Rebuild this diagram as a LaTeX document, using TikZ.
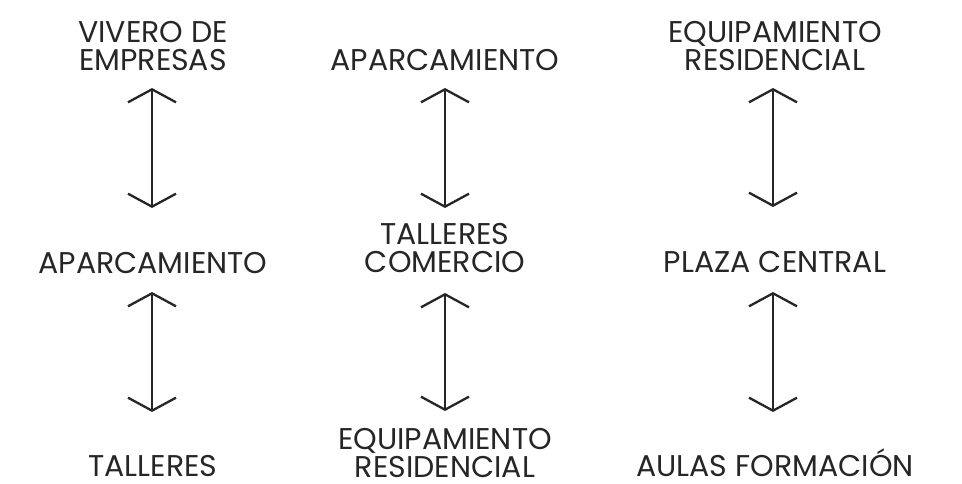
\documentclass[tikz,border=0pt]{standalone}
\usepackage{fontspec}
\setmainfont{Poppins}
\usetikzlibrary{arrows.meta}
\definecolor{ink}{HTML}{262626}
\begin{document}
\begin{tikzpicture}[x=1pt,y=1pt,
  lbl/.style={inner sep=0pt, anchor=base, align=center, text=ink,
    font=\fontsize{30}{28}\selectfont},
  arr/.style={draw=ink, line width=2.3pt,
    {Straight Barb[length=13pt,width=48pt]}-{Straight Barb[length=13pt,width=48pt]}}]
\useasboundingbox (0,0) rectangle (962,484);
% column 1
\node[lbl] (vivero) at (153,413) {VIVERO DE\\EMPRESAS};
\node[lbl] (aparcA) at (153,210) {APARCAMIENTO};
\node[lbl] (talleresA) at (153,7) {TALLERES};
% column 2
\node[lbl] (aparcB) at (445,413) {APARCAMIENTO};
\node[lbl] (talleresB) at (445,211) {TALLERES\\COMERCIO};
\node[lbl] (equipB) at (445,6) {EQUIPAMIENTO\\RESIDENCIAL};
% column 3
\node[lbl] (equipC) at (775,413) {EQUIPAMIENTO\\RESIDENCIAL};
\node[lbl] (plaza) at (775,211) {PLAZA CENTRAL};
\node[lbl] (aulas) at (775,7) {AULAS FORMACIÓN};
% arrows
\draw[arr] ([xshift=-1pt,yshift=-17pt]vivero.base) -- ([xshift=-1pt,yshift=66pt]aparcA.base);
\draw[arr] ([xshift=-1pt,yshift=-18pt]aparcA.base) -- ([xshift=-1pt,yshift=65pt]talleresA.base);
\draw[arr] ([yshift=-17pt]aparcB.base) -- ([yshift=65pt]talleresB.base);
\draw[arr] ([yshift=-20pt]talleresB.base) -- ([yshift=67pt]equipB.base);
\draw[arr] ([xshift=-2pt,yshift=-17pt]equipC.base) -- ([xshift=-2pt,yshift=66pt]plaza.base);
\draw[arr] ([xshift=-2pt,yshift=-19pt]plaza.base) -- ([xshift=-2pt,yshift=65pt]aulas.base);
\end{tikzpicture}
\end{document}
